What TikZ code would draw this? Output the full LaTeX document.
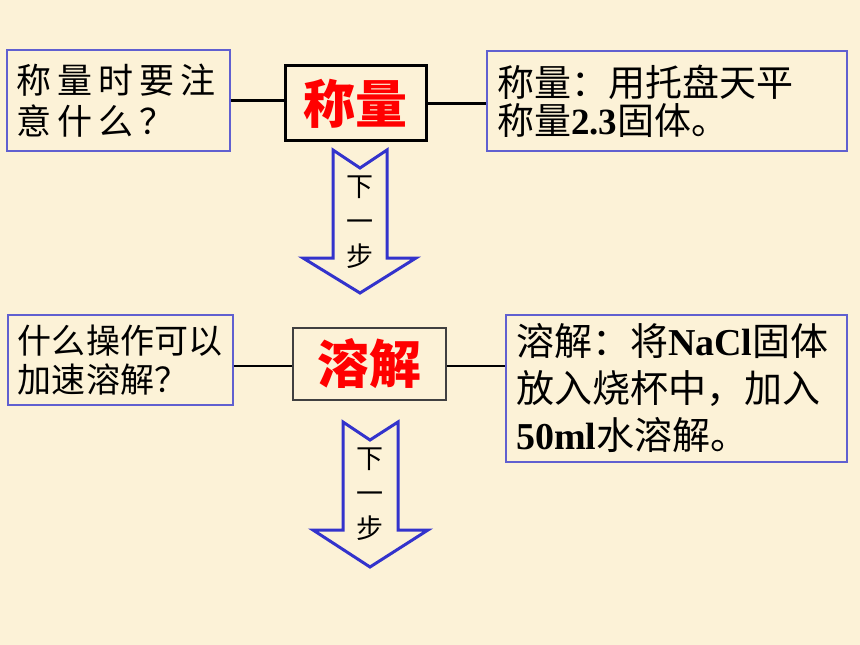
\documentclass[tikz,border=0pt]{standalone}
\usepackage{fontspec}
\setmainfont{Liberation Serif}
\newfontfamily\cjk{Noto Sans CJK SC}
\newfontfamily\cjkwide[LetterSpace=17]{Noto Sans CJK SC}
\definecolor{bg}{RGB}{252,242,215}
\definecolor{boxblue}{RGB}{96,96,208}
\definecolor{arrowblue}{RGB}{51,51,204}
\definecolor{titlered}{RGB}{255,0,0}
\tikzset{
  bluebox/.style={draw=boxblue, line width=1.4bp, inner xsep=10bp, inner ysep=0bp, align=left, anchor=center},
  stepbox/.style={draw=black, line width=3bp, inner sep=0bp, text=titlered, font=\cjk\bfseries\fontsize{52bp}{56bp}\selectfont},
  stepboxthin/.style={draw=black!75, line width=1.6bp, inner sep=0bp, text=titlered, font=\cjk\bfseries\fontsize{52bp}{56bp}\selectfont},
  link/.style={draw=black, line width=2.5bp},
  blockarrow/.style={draw=arrowblue, line width=3bp, line join=miter},
  arrowtext/.style={align=center, font=\cjk\fontsize{27bp}{35bp}\selectfont, inner sep=0bp}
}
\begin{document}
\begin{tikzpicture}[x=1bp,y=-1bp]
\fill[bg] (0,0) rectangle (860,645);
\useasboundingbox (0,0) rectangle (860,645);

% row 1
\node[bluebox, text width=203bp, minimum height=101bp, font=\cjkwide\fontsize{35bp}{41bp}\selectfont] (q1) at (118.5,100.5) {称量时要注\\意什么？};
\node[stepbox, minimum width=141bp, minimum height=75bp] (c1) at (355.5,103.5) {称量};
\node[bluebox, text width=340bp, minimum height=100bp, font=\fontsize{37bp}{38bp}\selectfont] (r1) at (667,101) {{\cjk 称量：用托盘天平}\\{\cjk 称量}\textbf{2.3}{\cjk 固体。}};

\draw[link] (q1.east) -- (q1.east -| c1.west);
\draw[link] (c1.east) -- (c1.east -| r1.west);

\draw[blockarrow] (333,150) -- (360,168) -- (387,150) -- (387,258) -- (416,258) -- (360,293) -- (303,258) -- (333,258) -- cycle;
\node[arrowtext] (a1) at (360,222) {下\\一\\步};

% row 2
\node[bluebox, text width=205bp, minimum height=90bp, font=\cjk\fontsize{34bp}{39bp}\selectfont] (q2) at (120.5,360) {什么操作可以\\加速溶解？};
\node[stepboxthin, minimum width=153bp, minimum height=72bp] (c2) at (369.5,364) {溶解};
\node[bluebox, text width=321bp, minimum height=147bp, font=\fontsize{38bp}{47bp}\selectfont] (r2) at (676.5,388.5) {{\cjk 溶解：将}\textbf{NaCl}{\cjk 固体}\\{\cjk 放入烧杯中，加入}\\\textbf{50ml}{\cjk 水溶解。}};

\draw[link] (q2.east |- 0,366) -- (c2.west |- 0,366);
\draw[link] (c2.east |- 0,366) -- (r2.west |- 0,366);

\draw[blockarrow] (343,422) -- (370,440) -- (398,422) -- (398,530) -- (428,530) -- (370,567) -- (313,530) -- (343,530) -- cycle;
\node[arrowtext] (a2) at (370,494) {下\\一\\步};
\end{tikzpicture}
\end{document}
